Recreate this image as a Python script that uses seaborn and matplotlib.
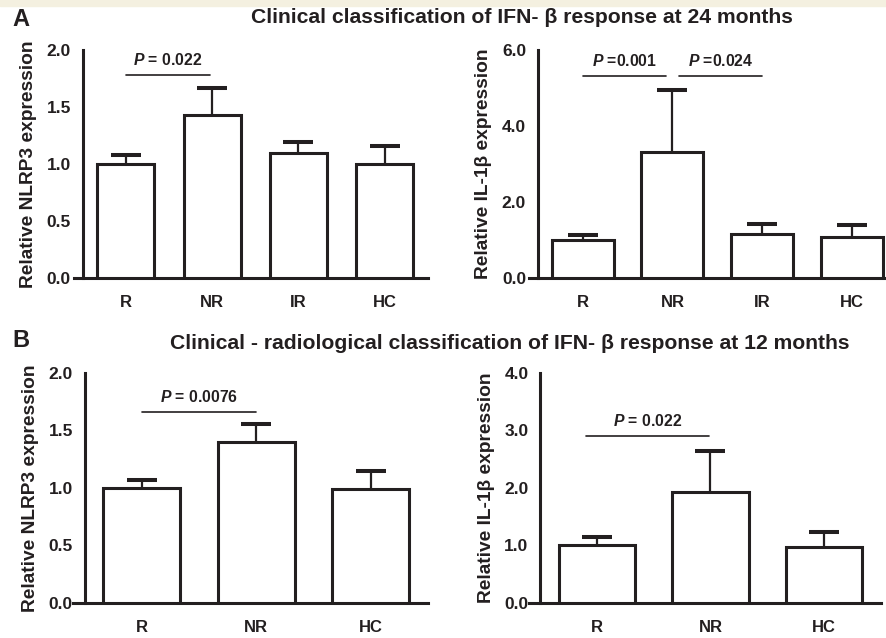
import numpy as np
import matplotlib
matplotlib.use('Agg')
import matplotlib.pyplot as plt
import seaborn as sns

# ── Data ───────────────────────────────────────────────────────
groups_24m = ["R", "NR", "IR", "HC"]
nlrp3_24m = [1.00, 1.43, 1.10, 1.00]
nlrp3_24m_sem = [0.08, 0.235, 0.09, 0.155]
il1b_24m = [1.00, 3.31, 1.17, 1.08]
il1b_24m_sem = [0.14, 1.65, 0.26, 0.31]

groups_12m = ["R", "NR", "HC"]
nlrp3_12m = [1.00, 1.40, 0.995]
nlrp3_12m_sem = [0.067, 0.155, 0.15]
il1b_12m = [1.00, 1.93, 0.975]
il1b_12m_sem = [0.155, 0.71, 0.26]

# ── Style ───────────────────────────────────────────────────────
sns.set_style("white")
plt.rcParams["font.family"] = ["Liberation Sans", "DejaVu Sans"]
plt.rcParams["font.weight"] = "bold"
plt.rcParams["mathtext.fontset"] = "custom"
plt.rcParams["mathtext.it"] = "Liberation Sans:italic:bold"
plt.rcParams["mathtext.rm"] = "Liberation Sans:bold"
INK = "#231f20"
LW = 2.2


def bar_panel(ax, cats, vals, sems, ylim, yticks, ylabel, width, pvals):
    sns.barplot(x=cats, y=vals, color="white", edgecolor=INK,
                linewidth=LW, width=width, saturation=1, ax=ax, zorder=3)
    # upper-only SEM bars: stem + cap
    pos = np.arange(len(cats))
    tops = np.array(vals) + np.array(sems)
    ax.vlines(pos, vals, tops, color=INK, lw=1.6, zorder=2)
    ax.plot(pos, tops, ls="none", marker="_", markersize=21, mew=2.9,
            color=INK, zorder=2)
    # significance bars: (x0, x1, y, text)
    for x0, x1, y, label in pvals:
        ax.plot([x0, x1], [y, y], color=INK, lw=1.2, clip_on=False)
        ax.text((x0 + x1) / 2, y + (ylim[1] * 0.03), label, ha="center",
                va="bottom", fontsize=11.3, fontweight="bold", color=INK)
    ax.set_ylim(*ylim)
    ax.set_yticks(yticks)
    ax.set_yticklabels([f"{t:.1f}" for t in yticks])
    ax.set_xlim(-0.6, len(cats) - 0.5)
    ax.spines["left"].set_position(("data", -0.5))
    ax.spines[["top", "right"]].set_visible(False)
    for s in ["left", "bottom"]:
        ax.spines[s].set_linewidth(LW)
        ax.spines[s].set_color(INK)
    ax.tick_params(axis="both", direction="out", length=5, width=LW,
                   color=INK, labelcolor=INK)
    ax.tick_params(axis="y", labelsize=12.5, pad=3.5)
    ax.tick_params(axis="x", labelsize=12, pad=7)
    for lab in ax.get_xticklabels() + ax.get_yticklabels():
        lab.set_fontweight("bold")
    ax.set_ylabel(ylabel, fontsize=13.8, fontweight="bold", color=INK, labelpad=7)
    ax.set_xlabel("")
    ax.set_facecolor("none")


fig = plt.figure(figsize=(8.86, 6.38), dpi=100)
fig.patch.set_facecolor("white")
# cream strip along the top edge
fig.add_artist(plt.Rectangle((0, 1 - 6 / 638), 1, 6 / 638, transform=fig.transFigure,
                             color="#f4f0e0", zorder=0))

ax1 = fig.add_axes([0.0835, 0.5643, 0.3995, 0.3573])
ax2 = fig.add_axes([0.597, 0.5643, 0.415, 0.3573])
ax3 = fig.add_axes([0.0826, 0.0549, 0.4004, 0.3605])
ax4 = fig.add_axes([0.597, 0.0549, 0.397, 0.3605])

bar_panel(ax1, groups_24m, nlrp3_24m, nlrp3_24m_sem, (0, 2.0),
          [0.0, 0.5, 1.0, 1.5, 2.0], "Relative NLRP3 expression", 0.66,
          [(0.0, 0.97, 1.78, r"$P$ = 0.022")])
bar_panel(ax2, groups_24m, il1b_24m, il1b_24m_sem, (0, 6.0),
          [0.0, 2.0, 4.0, 6.0], "Relative IL-1β expression", 0.69,
          [(0.0, 0.93, 5.32, r"$P$ =0.001"), (1.07, 2.0, 5.32, r"$P$ =0.024")])
bar_panel(ax3, groups_12m, nlrp3_12m, nlrp3_12m_sem, (0, 2.0),
          [0.0, 0.5, 1.0, 1.5, 2.0], "Relative NLRP3 expression", 0.675,
          [(0.0, 1.0, 1.658, r"$P$ = 0.0076")])
bar_panel(ax4, groups_12m, il1b_12m, il1b_12m_sem, (0, 4.0),
          [0.0, 1.0, 2.0, 3.0, 4.0], "Relative IL-1β expression", 0.675,
          [(-0.1, 0.99, 2.904, r"$P$ = 0.022")])

fig.text(0.014, 0.969, "A", fontsize=17, fontweight="bold", color=INK, va="center")
fig.text(0.014, 0.466, "B", fontsize=17, fontweight="bold", color=INK, va="center")
fig.text(0.589, 0.973, "Clinical classification of IFN- β response at 24 months",
         ha="center", va="center", fontsize=15.2, fontweight="bold", color=INK)
fig.text(0.575, 0.462, "Clinical - radiological classification of IFN- β response at 12 months",
         ha="center", va="center", fontsize=15.2, fontweight="bold", color=INK)

fig.savefig("out.png", dpi=100)
